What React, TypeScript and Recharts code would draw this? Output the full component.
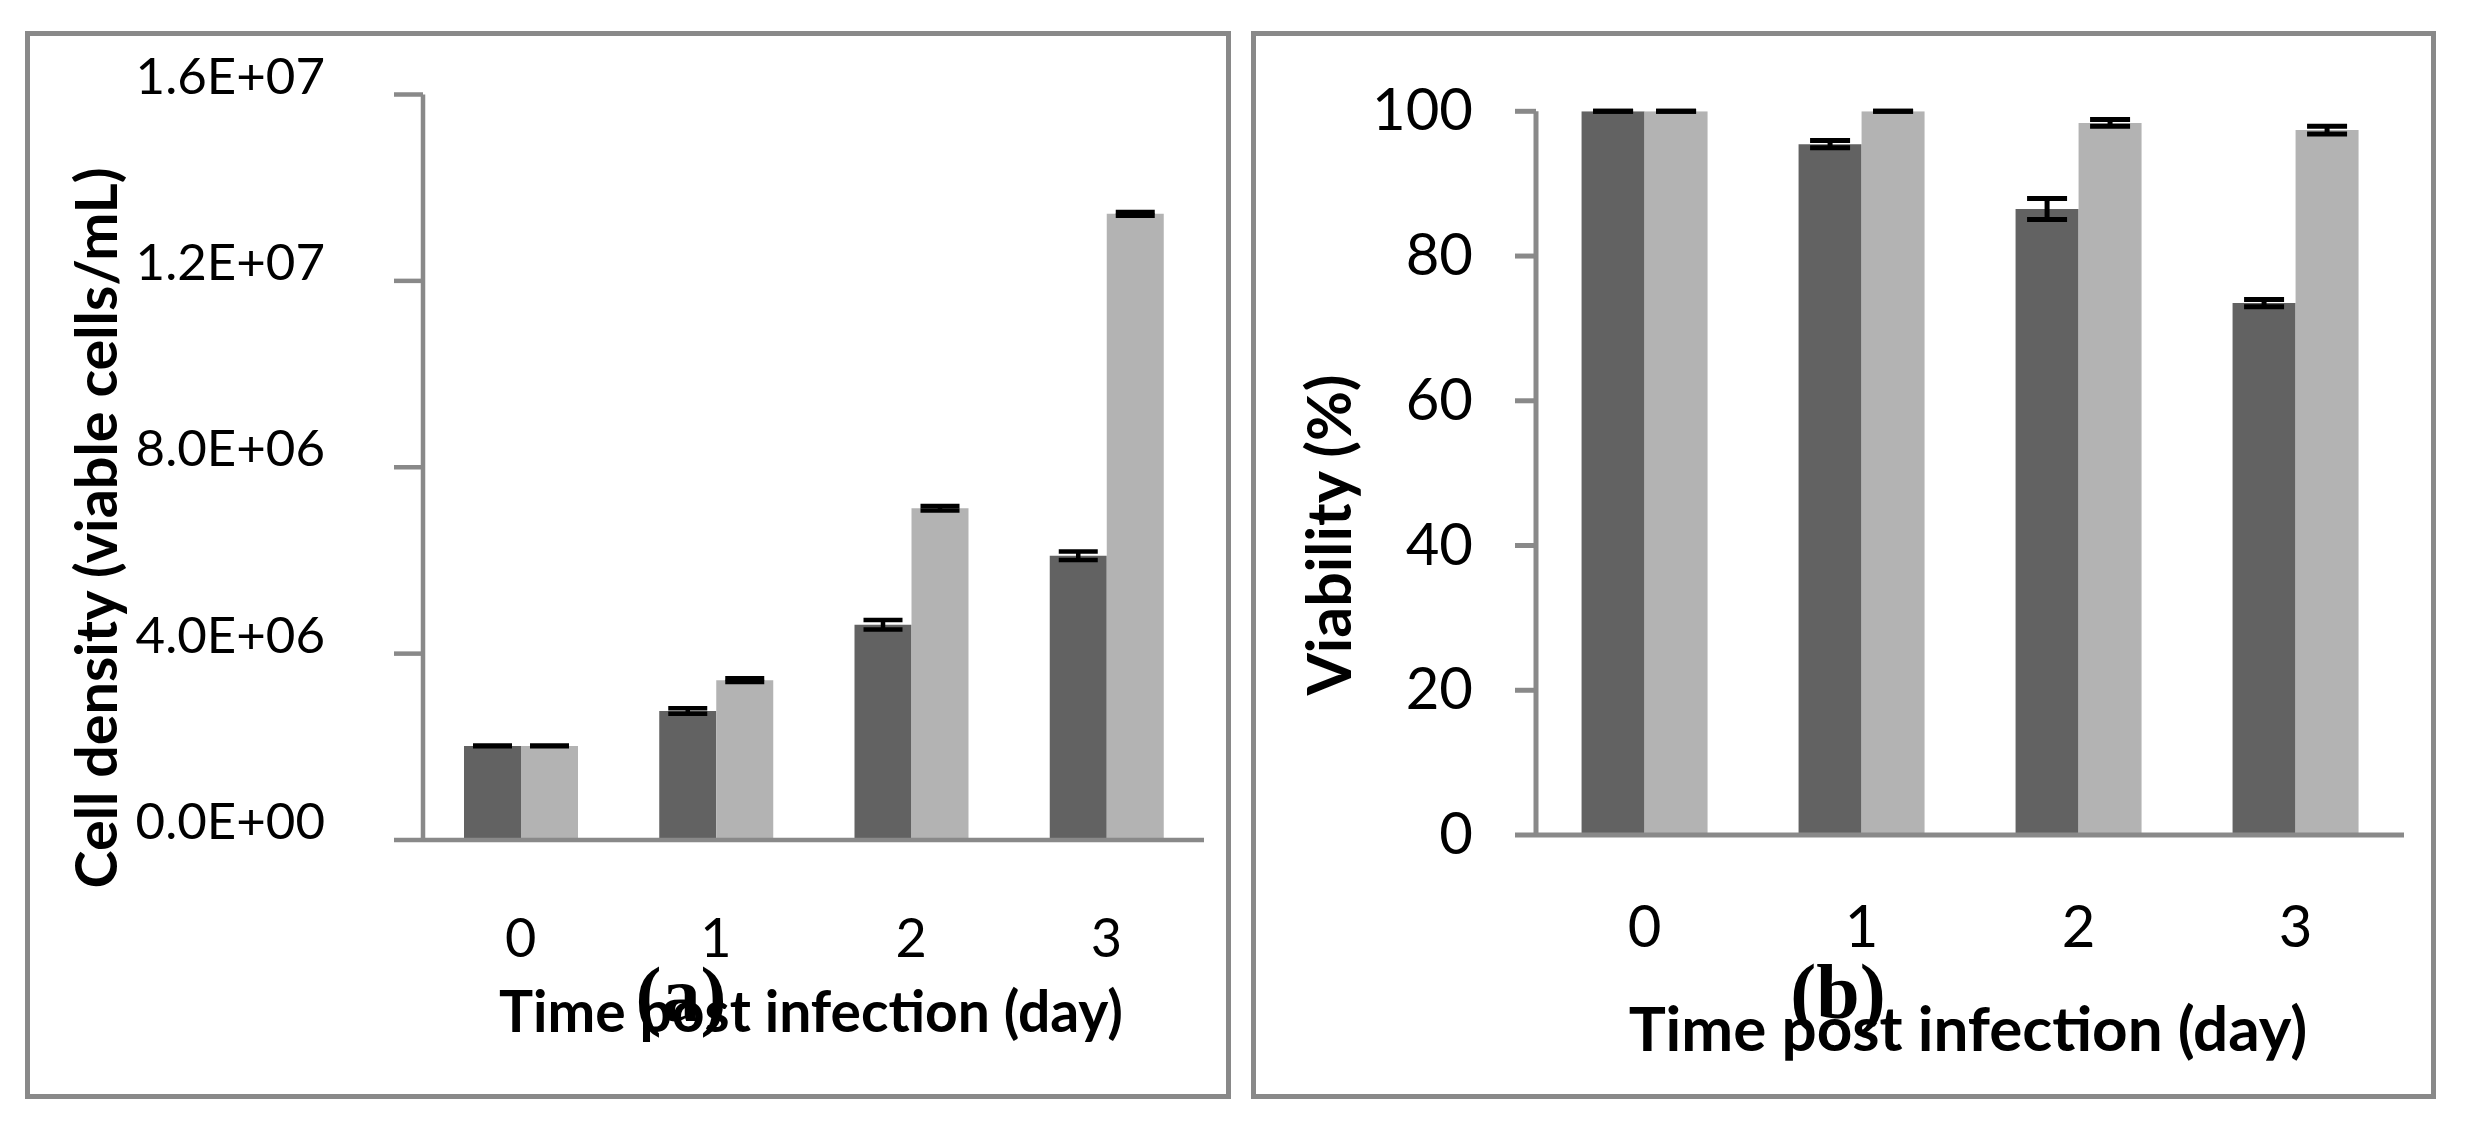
import React from 'react';
import { BarChart, Bar, XAxis, YAxis, ErrorBar } from 'recharts';

const categories = ['0', '1', '2', '3'];

const densityDark = [2.02e6, 2.77e6, 4.62e6, 6.1e6];
const densityDarkErr = [0.01e6, 0.06e6, 0.1e6, 0.09e6];
const densityLight = [2.02e6, 3.43e6, 7.12e6, 13.44e6];
const densityLightErr = [0.01e6, 0.04e6, 0.05e6, 0.04e6];

const viabilityDark = [100, 95.45, 86.5, 73.5];
const viabilityDarkErr = [0.01, 0.5, 1.45, 0.5];
const viabilityLight = [100, 100, 98.4, 97.4];
const viabilityLightErr = [0.01, 0.01, 0.45, 0.55];

const densityTicks = [0, 4e6, 8e6, 1.2e7, 1.6e7];
const densityTickLabels = ['0.0E+00', '4.0E+06', '8.0E+06', '1.2E+07', '1.6E+07'];
const viabilityTicks = [0, 20, 40, 60, 80, 100];
const viabilityTickLabels = ['0', '20', '40', '60', '80', '100'];
const boundaryTicks = [0, 1, 2, 3, 4];

const densityData = categories.map((c, i) => ({
  day: c,
  dark: densityDark[i],
  darkErr: densityDarkErr[i],
  light: densityLight[i],
  lightErr: densityLightErr[i],
}));

const viabilityData = categories.map((c, i) => ({
  day: c,
  dark: viabilityDark[i],
  darkErr: viabilityDarkErr[i],
  light: viabilityLight[i],
  lightErr: viabilityLightErr[i],
}));

const AXIS = '#898989';
const DARK = '#626262';
const LIGHT = '#b3b3b3';
const FONT = 'Lato';

const YTickA = (props: any) => {
  const { x, y, payload } = props;
  const idx = densityTicks.indexOf(payload.value);
  return (
    <text x={x - 69} y={y - 1} textAnchor="end" fontFamily={FONT} fontSize={51} fill="#000">
      {densityTickLabels[idx]}
    </text>
  );
};

const YTickB = (props: any) => {
  const { x, y, payload } = props;
  const idx = viabilityTicks.indexOf(payload.value);
  return (
    <text x={x - 42} y={y + 19} textAnchor="end" fontFamily={FONT} fontSize={58} fill="#000">
      {viabilityTickLabels[idx]}
    </text>
  );
};

const XTickA = (props: any) => {
  const { x, y, payload } = props;
  return (
    <text x={x} y={y + 117} textAnchor="middle" fontFamily={FONT} fontSize={54} fill="#000">
      {payload.value}
    </text>
  );
};

const XTickB = (props: any) => {
  const { x, y, payload } = props;
  return (
    <text x={x} y={y + 112} textAnchor="middle" fontFamily={FONT} fontSize={58} fill="#000">
      {payload.value}
    </text>
  );
};

export default function App() {
  return (
    <div style={{ position: 'absolute', left: 0, top: 0, width: 2467, height: 1129, background: '#fff', overflow: 'hidden' }}>
      <div style={{ position: 'absolute', left: 25, top: 31, width: 1206, height: 1068, border: `5px solid ${AXIS}`, boxSizing: 'border-box' }} />
      <div style={{ position: 'absolute', left: 1251, top: 31, width: 1185, height: 1068, border: `5px solid ${AXIS}`, boxSizing: 'border-box' }} />

      <div style={{ position: 'absolute', left: 0, top: 0 }}>
        <BarChart
          width={1240}
          height={1129}
          data={densityData}
          margin={{ top: 94.5, right: 36, bottom: 287, left: 422 }}
          barGap={0}
          barCategoryGap="21%"
        >
          <XAxis
            dataKey="day"
            height={1}
            axisLine={{ stroke: AXIS, strokeWidth: 4.5 }}
            tickLine={false}
            tickSize={0}
            tickMargin={0}
            tick={<XTickA />}
            interval={0}
          />
          <XAxis
            xAxisId="edge"
            type="number"
            domain={[0, 4]}
            ticks={boundaryTicks}
            allowDataOverflow
            height={1}
            axisLine={false}
            tick={false}
            tickSize={29}
            tickLine={{ stroke: AXIS, strokeWidth: 4.5 }}
          />
          <YAxis
            width={1}
            domain={[0, 1.6e7]}
            ticks={densityTicks}
            allowDataOverflow
            axisLine={{ stroke: AXIS, strokeWidth: 4.5 }}
            tickLine={{ stroke: AXIS, strokeWidth: 4.5 }}
            tickSize={29}
            tickMargin={0}
            tick={<YTickA />}
            interval={0}
          />
          <Bar dataKey="dark" fill={DARK} isAnimationActive={false}>
            <ErrorBar dataKey="darkErr" width={19.5} strokeWidth={4.5} stroke="#000" direction="y" />
          </Bar>
          <Bar dataKey="light" fill={LIGHT} isAnimationActive={false}>
            <ErrorBar dataKey="lightErr" width={19.5} strokeWidth={4.5} stroke="#000" direction="y" />
          </Bar>
        </BarChart>
      </div>

      <div style={{ position: 'absolute', left: 1240, top: 0 }}>
        <BarChart
          width={1227}
          height={1129}
          data={viabilityData}
          margin={{ top: 111.3, right: 63, bottom: 292, left: 295 }}
          barGap={0}
          barCategoryGap="21%"
        >
          <XAxis
            dataKey="day"
            height={1}
            axisLine={{ stroke: AXIS, strokeWidth: 5 }}
            tickLine={false}
            tickSize={0}
            tickMargin={0}
            tick={<XTickB />}
            interval={0}
          />
          <XAxis
            xAxisId="edge"
            type="number"
            domain={[0, 4]}
            ticks={boundaryTicks}
            allowDataOverflow
            height={1}
            axisLine={false}
            tick={false}
            tickSize={32}
            tickLine={{ stroke: AXIS, strokeWidth: 5 }}
          />
          <YAxis
            width={1}
            domain={[0, 100]}
            ticks={viabilityTicks}
            allowDataOverflow
            axisLine={{ stroke: AXIS, strokeWidth: 5 }}
            tickLine={{ stroke: AXIS, strokeWidth: 5 }}
            tickSize={21}
            tickMargin={0}
            tick={<YTickB />}
            interval={0}
          />
          <Bar dataKey="dark" fill={DARK} isAnimationActive={false}>
            <ErrorBar dataKey="darkErr" width={20} strokeWidth={5} stroke="#000" direction="y" />
          </Bar>
          <Bar dataKey="light" fill={LIGHT} isAnimationActive={false}>
            <ErrorBar dataKey="lightErr" width={20} strokeWidth={5} stroke="#000" direction="y" />
          </Bar>
        </BarChart>
      </div>

      <svg width={2467} height={1129} style={{ position: 'absolute', left: 0, top: 0, pointerEvents: 'none' }}>
        <text transform="translate(117,528) rotate(-90)" textAnchor="middle" fontFamily={FONT} fontWeight="bold" fontSize={57.5} fill="#000">
          Cell density (viable cells/mL)
        </text>
        <text x={811} y={1032} textAnchor="middle" fontFamily={FONT} fontWeight="bold" fontSize={57} fill="#000">
          Time post infection (day)
        </text>
        <text x={681} y={1021} textAnchor="middle" fontFamily="Liberation Serif" fontWeight="bold" fontSize={78} fill="#000">
          (a)
        </text>

        <text transform="translate(1351,535) rotate(-90)" textAnchor="middle" fontFamily={FONT} fontWeight="bold" fontSize={61} fill="#000">
          Viability (%)
        </text>
        <text x={1968} y={1051} textAnchor="middle" fontFamily={FONT} fontWeight="bold" fontSize={62} fill="#000">
          Time post infection (day)
        </text>
        <text x={1838} y={1018} textAnchor="middle" fontFamily="Liberation Serif" fontWeight="bold" fontSize={78} fill="#000">
          (b)
        </text>
      </svg>
    </div>
  );
}
